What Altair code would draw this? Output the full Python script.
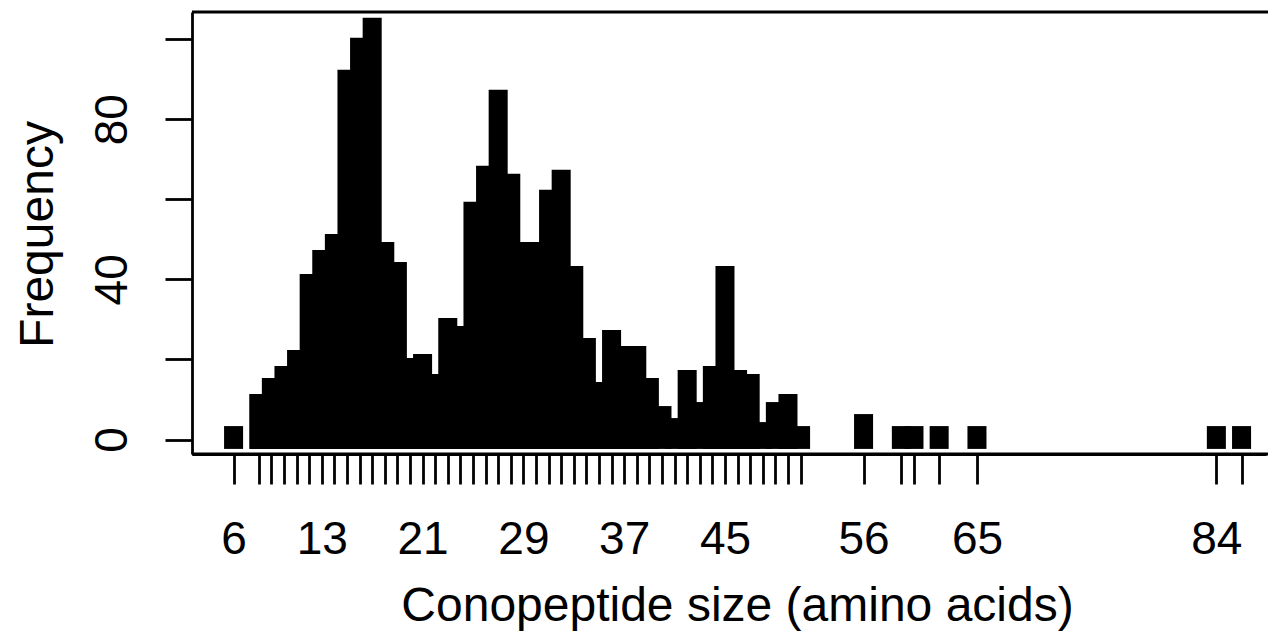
import altair as alt
import pandas as pd

# Conopeptide sizes (amino acids) and their frequencies
sizes = [6,
         8, 9, 10, 11, 12, 13, 14, 15, 16, 17, 18, 19, 20, 21, 22, 23, 24, 25, 26, 27,
         28, 29, 30, 31, 32, 33, 34, 35, 36, 37, 38, 39, 40, 41, 42, 43, 44, 45, 46, 47,
         48, 49, 50, 51,
         56, 59, 60, 62, 65, 84, 86]
counts = [1,
          9, 13, 16, 20, 39, 45, 49, 90, 98, 103, 47, 42, 18, 19, 14, 28, 26, 57, 66, 85,
          64, 47, 47, 60, 65, 41, 23, 12, 25, 21, 21, 13, 6, 3, 15, 7, 16, 41, 15, 14,
          2, 7, 9, 1,
          4, 1, 1, 1, 1, 1, 1]
x_labels = [6, 13, 21, 29, 37, 45, 56, 65, 84]
y_ticks = [0, 20, 40, 60, 80, 100]
y_labels = [0, 40, 80]

df = pd.DataFrame({"size": sizes, "count": counts})

FONT = "Liberation Sans"
FS = 46
TFS = 48
W, H = 1074, 442
HALF = 0.755   # half bar width (thick R "h" lines)
CAP = 2.35     # square line-cap overhang
LW = 2.8

x_expr = "indexof([%s], datum.value) >= 0 ? datum.label : ''" % ",".join(map(str, x_labels))
y_expr = "indexof([%s], datum.value) >= 0 ? datum.label : ''" % ",".join(map(str, y_labels))

bars = alt.Chart(df).transform_calculate(
    x0=f"datum.size - {HALF}",
    x1=f"datum.size + {HALF}",
    top=f"datum.count + {CAP}",
    bottom=f"-{CAP}",
).mark_rect(color="black", strokeWidth=0).encode(
    x=alt.X("x0:Q",
            scale=alt.Scale(domain=[2.7, 87.94], nice=False, zero=False),
            axis=alt.Axis(values=sizes, labelExpr=x_expr,
                          title="Conopeptide size (amino acids)",
                          tickSize=30, labelPadding=69, labelBaseline="alphabetic",
                          labelAlign="center", labelFlush=False, labelOverlap=False,
                          labelBound=False,
                          titleX=545, titleY=166, titleBaseline="alphabetic",
                          titleAlign="center")),
    x2="x1:Q",
    y=alt.Y("top:Q",
            scale=alt.Scale(domain=[-3.62, 106.76], nice=False, zero=False),
            axis=alt.Axis(values=y_ticks, labelExpr=y_expr, title="Frequency",
                          tickSize=27, labelPadding=39, labelAngle=-90,
                          labelAlign="center", labelBaseline="alphabetic",
                          labelFlush=False, labelOverlap=False, labelBound=False,
                          titleX=-140, titleY=222, titleAngle=270,
                          titleBaseline="alphabetic", titleAlign="center")),
    y2="bottom:Q",
)

frame = pd.DataFrame({"k": [0]})
top_line = alt.Chart(frame).mark_rule(color="black", strokeWidth=LW).encode(
    x=alt.value(0), x2=alt.value(W + 2), y=alt.value(0))
bottom_line = alt.Chart(frame).mark_rule(color="black", strokeWidth=LW).encode(
    x=alt.value(0), x2=alt.value(W + 2), y=alt.value(H))

chart = alt.layer(bars, top_line, bottom_line).properties(
    width=W, height=H,
    autosize=alt.AutoSizeParams(type="none"),
    padding={"left": 184, "top": 4, "right": 2, "bottom": 178},
    background="white",
).configure_view(stroke=None).configure_axis(
    grid=False, domainColor="black", tickColor="black", labelColor="black",
    titleColor="black", labelFont=FONT, titleFont=FONT, labelFontSize=FS,
    titleFontSize=TFS, titleFontWeight="normal", domainWidth=LW, tickWidth=LW,
)

chart.save("out.html", embed_options={"renderer": "svg", "actions": False})
